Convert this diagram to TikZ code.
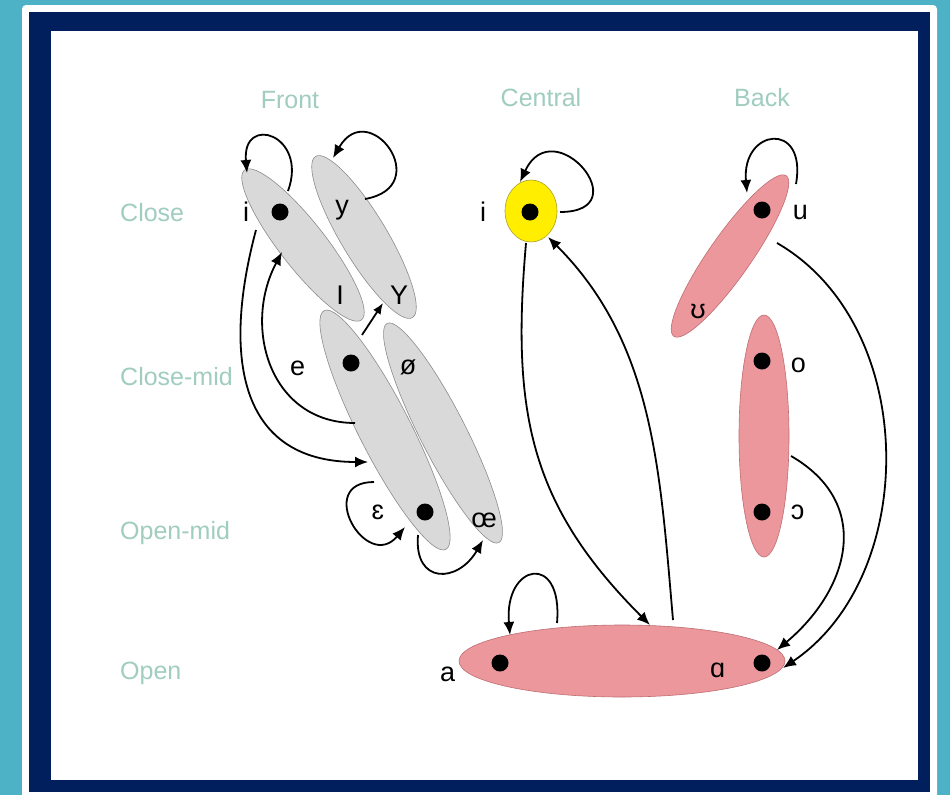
\documentclass[tikz,border=0pt]{standalone}
\usepackage{fontspec}
\setmainfont{Liberation Sans}
\usetikzlibrary{positioning}
\usetikzlibrary{arrows.meta}
\usetikzlibrary{shapes.geometric}
\definecolor{pageteal}{RGB}{78,178,198}
\definecolor{framenavy}{RGB}{0,31,92}
\definecolor{chartlabel}{RGB}{160,205,192}
\definecolor{frontgray}{RGB}{217,217,217}
\definecolor{frontedge}{RGB}{140,140,140}
\definecolor{backpink}{RGB}{236,151,156}
\definecolor{backedge}{RGB}{190,110,115}
\definecolor{centralyellow}{RGB}{255,238,0}
\definecolor{centraledge}{RGB}{170,160,40}

\begin{document}
\begin{tikzpicture}[x=1pt, y=1pt,
        rowlabel/.style={font=\fontsize{25}{30}\selectfont, text=chartlabel, inner sep=0pt},
        vowel/.style={font=\fontsize{27}{32}\selectfont, inner sep=0pt},
        vdot/.style={circle, fill=black, minimum size=17pt, inner sep=0pt},
        frontset/.style={ellipse, fill=frontgray, draw=frontedge, line width=0.6pt, inner sep=0pt},
        backset/.style={ellipse, fill=backpink, draw=backedge, line width=0.6pt, inner sep=0pt},
        move/.style={draw, line width=1.8pt, -{Latex[length=13pt,width=11pt]}}]
    \useasboundingbox (0,0) rectangle (950,-795);
    \fill[pageteal] (0,0) rectangle (950,-795);
    \fill[white, rounded corners=4pt] (22,-5) rectangle (937,-800);
    \fill[framenavy] (29,-12) rectangle (930,-792);
    \fill[white] (51,-31) rectangle (918,-780);

    \node[rowlabel] (colFront) at (290,-100) {Front};
    \node[rowlabel] (colCentral) at (541,-98) {Central};
    \node[rowlabel] (colBack) at (762,-98) {Back};
    \node[rowlabel, anchor=west] (rowClose) at (120,-213) {Close};
    \node[rowlabel, anchor=west] (rowCloseMid) at (120,-377) {Close-mid};
    \node[rowlabel, anchor=west] (rowOpenMid) at (120,-533) {Open-mid};
    \node[rowlabel, anchor=west] (rowOpen) at (120,-673) {Open};

    \node[frontset, minimum width=190pt, minimum height=46pt, rotate=-52] (setI) at (303,-245) {};
    \node[frontset, minimum width=188pt, minimum height=46pt, rotate=-59] (setY) at (364,-237) {};
    \node[frontset, minimum width=246pt, minimum height=46pt, rotate=-63] (setOe) at (443,-433) {};
    \node[frontset, minimum width=268pt, minimum height=52pt, rotate=-63] (setE) at (385,-430) {};
    \node[ellipse, fill=centralyellow, draw=centraledge, line width=0.6pt,
          minimum width=52pt, minimum height=62pt] (setCi) at (531,-211) {};
    \node[backset, minimum width=196pt, minimum height=42pt, rotate=55] (setU) at (730,-256) {};
    \node[backset, minimum width=50pt, minimum height=242pt] (setO) at (764,-436) {};
    \node[backset, minimum width=326pt, minimum height=72pt] (setA) at (622,-661) {};

    \node[vdot] (dotI) at (280,-212) {};
    \node[vdot] (dotE) at (351,-363) {};
    \node[vdot] (dotEps) at (425,-512) {};
    \node[vdot] (dotCi) at (530,-212) {};
    \node[vdot] (dotU) at (762,-210) {};
    \node[vdot] (dotO) at (762,-361) {};
    \node[vdot] (dotOo) at (762,-512) {};
    \node[vdot] (dotA) at (500,-663) {};
    \node[vdot] (dotAa) at (762,-663) {};

    \node[vowel, left=22pt of dotI] (lblI) {i};
    \node[vowel, left=37pt of dotE, yshift=-5pt] (lblE) {e};
    \node[vowel, left=32pt of dotEps] (lblEps) {ɛ};
    \node[vowel, left=35pt of dotCi] (lblCi) {i};
    \node[vowel, left=36pt of dotA, yshift=-11pt] (lblA) {a};
    \node[vowel, left=28pt of dotAa, yshift=-7pt] (lblAa) {ɑ};
    \node[vowel, right=22pt of dotU, yshift=-2pt] (lblU) {u};
    \node[vowel, right=20pt of dotO, yshift=-4pt] (lblO) {o};
    \node[vowel, right=20pt of dotOo] (lblOo) {ɔ};
    \node[vowel] (lblY) at (342,-210) {y};
    \node[vowel] (lblSmallI) at (340,-295) {I};
    \node[vowel] (lblSmallY) at (399,-295) {Y};
    \node[vowel] (lblOslash) at (408,-367) {ø};
    \node[vowel] (lblOe) at (484,-520) {œ};
    \node[vowel] (lblUps) at (698,-311) {ʊ};

    \coordinate (iLoopOut) at (288,-191);
    \coordinate (iLoopIn) at (247,-173);
    \coordinate (yLoopOut) at (365,-199);
    \coordinate (yLoopIn) at (333,-158);
    \coordinate (eUp) at (362,-335);
    \coordinate (yDown) at (383,-303);
    \coordinate (iDown) at (256,-230);
    \coordinate (eFromI) at (368,-462);
    \coordinate (eBack) at (355,-423);
    \coordinate (iFromE) at (282,-252);
    \coordinate (epsLoopOut) at (374,-482);
    \coordinate (epsLoopIn) at (405,-527);
    \coordinate (epsOut) at (418,-535);
    \coordinate (oeIn) at (483,-540);
    \coordinate (ciLoopOut) at (560,-212);
    \coordinate (ciLoopIn) at (520,-182);
    \coordinate (ciDown) at (526,-243);
    \coordinate (openFromCi) at (650,-625);
    \coordinate (openUp) at (673,-620);
    \coordinate (ciFromOpen) at (548,-237);
    \coordinate (aLoopOut) at (557,-623);
    \coordinate (aLoopIn) at (510,-635);
    \coordinate (uLoopOut) at (796,-184);
    \coordinate (uLoopIn) at (747,-193);
    \coordinate (uDown) at (777,-243);
    \coordinate (aaFromU) at (783,-668);
    \coordinate (oDown) at (791,-456);
    \coordinate (aaFromO) at (777,-650);

    \draw[move] (iLoopOut) to[out=70, in=95, distance=60pt] (iLoopIn);
    \draw[move] (yLoopOut) to[out=10, in=60, distance=72pt] (yLoopIn);
    \draw[move, -{Latex[length=11pt,width=9pt]}] (eUp) -- (yDown);
    \draw[move] (iDown) to[out=255, in=180, distance=130pt] (eFromI);
    \draw[move] (eBack) to[out=180, in=242, distance=85pt] (iFromE);
    \draw[move] (epsLoopOut) to[out=180, in=230, distance=60pt] (epsLoopIn);
    \draw[move] (epsOut) to[out=265, in=240, distance=50pt] (oeIn);
    \draw[move] (ciLoopOut) to[out=0, in=65, distance=80pt] (ciLoopIn);
    \draw[move] (ciDown) to[out=265, in=135, distance=170pt] (openFromCi);
    \draw[move] (openUp) to[out=95, in=-45, distance=150pt] (ciFromOpen);
    \draw[move] (aLoopOut) to[out=85, in=95, distance=72pt] (aLoopIn);
    \draw[move] (uLoopOut) to[out=80, in=95, distance=65pt] (uLoopIn);
    \draw[move] (uDown) to[out=-30, in=34, distance=165pt] (aaFromU);
    \draw[move] (oDown) to[out=-30, in=40, distance=95pt] (aaFromO);
\end{tikzpicture}
\end{document}
